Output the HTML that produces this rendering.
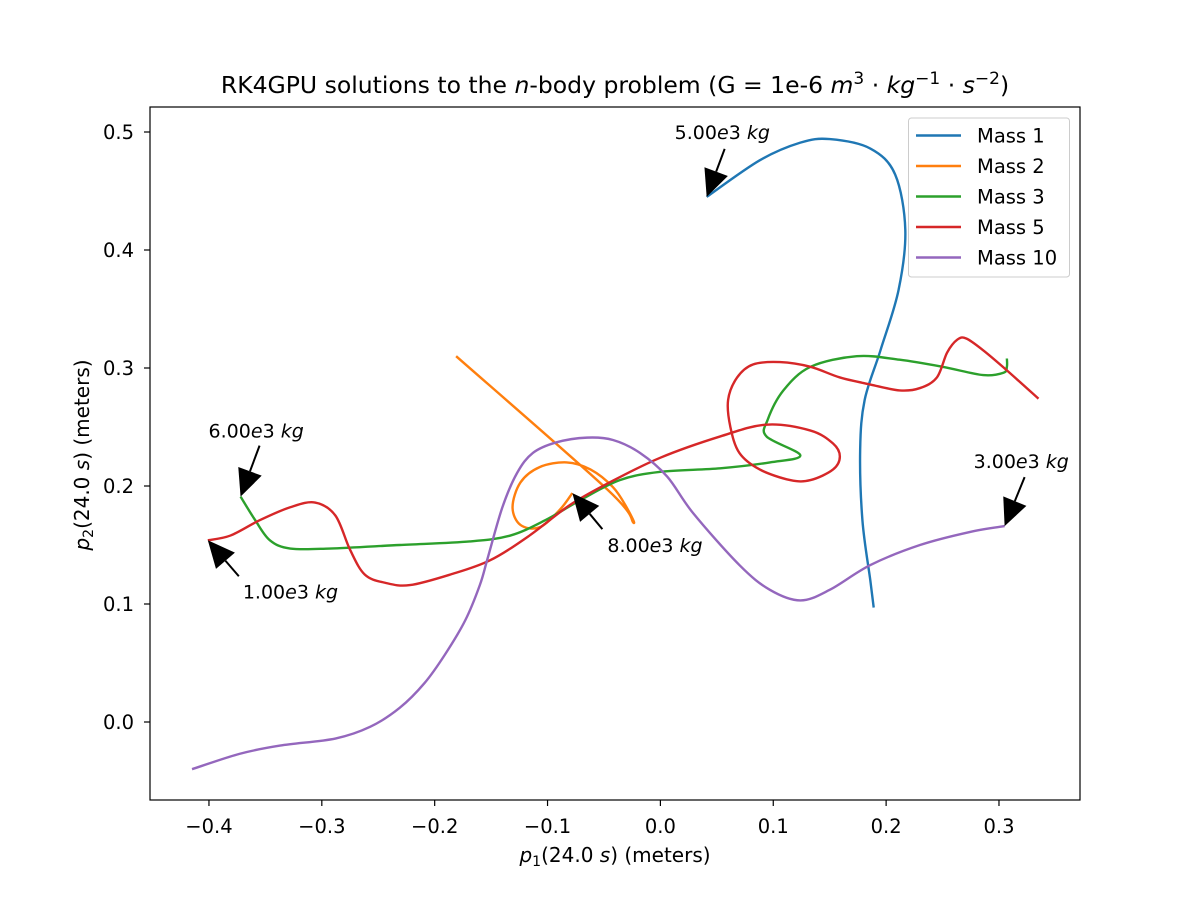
<!DOCTYPE html>
<html><head><meta charset="utf-8"><style>
body{margin:0;background:#fff}
svg{font-family:"DejaVu Sans","Liberation Sans",sans-serif}
</style></head><body>
<svg id="c" width="1200" height="900" xmlns="http://www.w3.org/2000/svg"></svg>
<script>
const xTicks=[-0.4,-0.3,-0.2,-0.1,0.0,0.1,0.2,0.3];
const xTickLabels=["−0.4","−0.3","−0.2","−0.1","0.0","0.1","0.2","0.3"];
const yTicks=[0.0,0.1,0.2,0.3,0.4,0.5];
const yTickLabels=["0.0","0.1","0.2","0.3","0.4","0.5"];
const seriesNames=["Mass 1","Mass 2","Mass 3","Mass 5","Mass 10"];
const seriesColors=["#1f77b4","#ff7f0e","#2ca02c","#d62728","#9467bd"];
const mass1X=[0.041,0.088,0.124,0.150,0.186,0.208,0.217,0.211,0.195,0.181,0.177,0.179,0.186,0.189];
const mass1Y=[0.445,0.476,0.491,0.494,0.486,0.464,0.417,0.366,0.315,0.273,0.231,0.171,0.120,0.097];
const mass2X=[-0.078,-0.089,-0.107,-0.124,-0.131,-0.124,-0.107,-0.083,-0.062,-0.042,-0.030,-0.024,-0.047,-0.181];
const mass2Y=[0.194,0.180,0.165,0.167,0.182,0.203,0.216,0.220,0.214,0.199,0.182,0.169,0.197,0.310];
const mass3X=[-0.372,-0.359,-0.346,-0.328,-0.293,-0.231,-0.169,-0.133,-0.102,-0.071,-0.036,0.000,0.053,0.097,0.124,0.094,0.095,0.109,0.133,0.174,0.212,0.250,0.286,0.304,0.307,0.307];
const mass3Y=[0.191,0.171,0.154,0.147,0.147,0.150,0.153,0.158,0.171,0.188,0.205,0.212,0.215,0.220,0.226,0.242,0.256,0.281,0.301,0.310,0.307,0.301,0.294,0.296,0.301,0.308];
const mass5X=[-0.401,-0.381,-0.355,-0.328,-0.306,-0.288,-0.275,-0.262,-0.244,-0.222,-0.186,-0.151,-0.116,-0.080,-0.045,0.000,0.053,0.094,0.133,0.153,0.159,0.153,0.133,0.115,0.088,0.070,0.062,0.060,0.068,0.082,0.106,0.133,0.159,0.186,0.212,0.230,0.245,0.254,0.263,0.271,0.286,0.307,0.335];
const mass5Y=[0.154,0.158,0.171,0.182,0.186,0.175,0.146,0.125,0.118,0.116,0.125,0.137,0.158,0.184,0.203,0.224,0.242,0.252,0.247,0.236,0.225,0.214,0.205,0.205,0.214,0.228,0.250,0.273,0.292,0.303,0.305,0.301,0.292,0.286,0.281,0.283,0.292,0.313,0.324,0.325,0.315,0.298,0.274];
const mass10X=[-0.415,-0.373,-0.337,-0.288,-0.257,-0.231,-0.209,-0.191,-0.173,-0.160,-0.153,-0.140,-0.127,-0.113,-0.092,-0.065,-0.042,-0.018,0.006,0.029,0.070,0.097,0.124,0.150,0.186,0.230,0.274,0.305];
const mass10Y=[-0.040,-0.027,-0.020,-0.014,-0.004,0.012,0.033,0.057,0.086,0.116,0.139,0.182,0.211,0.228,0.237,0.241,0.239,0.228,0.208,0.177,0.133,0.112,0.103,0.112,0.133,0.150,0.161,0.166];
const annLabels=["5.00","6.00","1.00","8.00","3.00"];
const annTipX=[0.041,-0.372,-0.401,-0.078,0.305];
const annTipY=[0.445,0.191,0.154,0.194,0.166];

const NS="http://www.w3.org/2000/svg";
const svg=document.getElementById('c');
const L=150,R=1080,T=107,B=800;
const xs=v=>660.4+v*1128.6;
const ys=v=>722-v*1180;
function mk(tag,attrs,parent){const e=document.createElementNS(NS,tag);for(const k in attrs)e.setAttribute(k,attrs[k]);(parent||svg).appendChild(e);return e;}

const title=mk('text',{x:615,y:93,'text-anchor':'middle','font-size':23.5});


title.innerHTML='RK4GPU solutions to the <tspan font-style="italic">n</tspan>-body problem (G = 1e-6 <tspan font-style="italic">m</tspan><tspan dy="-9" font-size="17">3</tspan><tspan dy="9"> · </tspan><tspan font-style="italic">kg</tspan><tspan dy="-9" font-size="17">−1</tspan><tspan dy="9"> · </tspan><tspan font-style="italic">s</tspan><tspan dy="-9" font-size="17">−2</tspan><tspan dy="9">)</tspan>';

const xt=mk('g',{});


xTicks.forEach((t,i)=>{
  mk('line',{x1:xs(t),x2:xs(t),y1:B,y2:B+6,stroke:'#000','stroke-width':1.2},xt);
  const tx=mk('text',{x:xs(t),y:B+33,'text-anchor':'middle','font-size':19.5},xt);
  
  
  tx.textContent=xTickLabels[i];
});
const yt=mk('g',{});


yTicks.forEach((t,i)=>{
  mk('line',{x1:L-6,x2:L,y1:ys(t),y2:ys(t),stroke:'#000','stroke-width':1.2},yt);
  const tx=mk('text',{x:L-16,y:ys(t)+7,'text-anchor':'end','font-size':19.5},yt);
  
  
  tx.textContent=yTickLabels[i];
});
const xl=mk('text',{x:615,y:862,'text-anchor':'middle','font-size':20});


xl.innerHTML='<tspan font-style="italic">p</tspan><tspan dy="4" font-size="14">1</tspan><tspan dy="-4">(24.0 </tspan><tspan font-style="italic">s</tspan>) (meters)';
const yl=mk('text',{x:0,y:0,'text-anchor':'middle','font-size':20,transform:'translate(89,455) rotate(-90)'});


yl.innerHTML='<tspan font-style="italic">p</tspan><tspan dy="4" font-size="14">2</tspan><tspan dy="-4">(24.0 </tspan><tspan font-style="italic">s</tspan>) (meters)';

function smooth(X,Y){
  const p=X.map((x,i)=>[xs(x),ys(Y[i])]);
  let d='M'+p[0][0]+','+p[0][1];
  for(let i=0;i<p.length-1;i++){
    const p0=p[i-1]||p[i],p1=p[i],p2=p[i+1],p3=p[i+2]||p[i+1];
    const c1=[p1[0]+(p2[0]-p0[0])/6,p1[1]+(p2[1]-p0[1])/6];
    const c2=[p2[0]-(p3[0]-p1[0])/6,p2[1]-(p3[1]-p1[1])/6];
    d+=`C${c1[0]},${c1[1]} ${c2[0]},${c2[1]} ${p2[0]},${p2[1]}`;
  }
  return d;
}
const allX=[mass1X,mass2X,mass3X,mass5X,mass10X];
const allY=[mass1Y,mass2Y,mass3Y,mass5Y,mass10Y];
const lines=mk('g',{});
allX.forEach((X,i)=>{
  const pth=mk('path',{d:smooth(X,allY[i]),fill:'none',stroke:seriesColors[i],'stroke-width':2.4,'stroke-linejoin':'round'},lines);
  
  
});

const annTail=[[18,-48],[19,-51],[31,36],[30,36],[20,-49]];
const annText=[[-32,-58],[-32,-59],[35,58],[35,59],[-31,-58]];
annLabels.forEach((lab,i)=>{
  const tx=xs(annTipX[i]),ty=ys(annTipY[i]);
  const g=mk('g',{});
  
  
  const txt=mk('text',{x:tx+annText[i][0],y:ty+annText[i][1],'font-size':19},g);
  txt.innerHTML=lab+'<tspan font-style="italic">e</tspan>3 <tspan font-style="italic">kg</tspan>';
  const tailX=tx+annTail[i][0],tailY=ty+annTail[i][1];
  const dx=tailX-tx,dy=tailY-ty,len=Math.hypot(dx,dy),ux=dx/len,uy=dy/len;
  const hl=27,hw=12.5;
  const bx=tx+ux*hl,by=ty+uy*hl;
  mk('line',{x1:bx,y1:by,x2:tailX,y2:tailY,stroke:'#000','stroke-width':2},g);
  mk('polygon',{points:`${tx},${ty} ${bx-uy*hw},${by+ux*hw} ${bx+uy*hw},${by-ux*hw}`,fill:'#000'},g);
});

mk('rect',{x:L,y:T,width:R-L,height:B-T,fill:'none',stroke:'#000','stroke-width':1.2});

const leg=mk('g',{});


mk('rect',{x:908.5,y:118,width:161,height:159,rx:3,fill:'#fff','fill-opacity':0.8,stroke:'#ccc'},leg);
seriesNames.forEach((n,i)=>{
  const y=135.5+i*30.5;
  const e=mk('g',{},leg);
  
  
  mk('line',{x1:916,x2:961,y1:y,y2:y,stroke:seriesColors[i],'stroke-width':2.4},e);
  const t=mk('text',{x:977,y:y+7,'font-size':19.5},e);
  t.textContent=n;
});
</script>
</body></html>
